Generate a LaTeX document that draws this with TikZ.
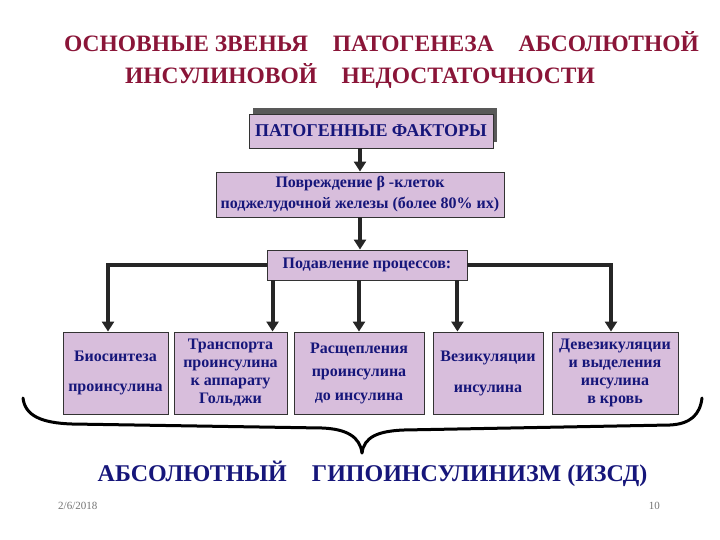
\documentclass[tikz,border=0pt]{standalone}
\usepackage{fontspec}
\setmainfont{Liberation Serif}
\usetikzlibrary{arrows.meta}
\definecolor{boxfill}{HTML}{D8BEDC}
\definecolor{navy}{HTML}{16167A}
\definecolor{titlered}{HTML}{8A1538}
\tikzset{
  box/.style={draw=black!80, line width=0.9pt, fill=boxfill, text=navy, align=center, inner sep=0pt},
  arr/.style={draw=black!85, line width=4pt, -{Triangle[width=12pt,length=10pt]}},
  brace/.style={draw=black, line width=3pt, line cap=round},
  ttl/.style={font=\fontsize{23.5}{28}\selectfont\bfseries, anchor=base, inner sep=0pt},
}
\begin{document}
\begin{tikzpicture}[x=1pt,y=-1pt]
\useasboundingbox (0,0) rectangle (720,540);
% title
\node[ttl, text=titlered] (t1) at (381.5,52) {ОСНОВНЫЕ ЗВЕНЬЯ\hspace{0.8em} ПАТОГЕНЕЗА\hspace{0.8em} АБСОЛЮТНОЙ};
\node[ttl, text=titlered] (t2) at (360,84) {ИНСУЛИНОВОЙ\hspace{0.8em} НЕДОСТАТОЧНОСТИ};
% boxes
\fill[black!65] (253,108) rectangle (497,142);
\node[box, minimum width=244, minimum height=34, font=\fontsize{18}{20}\selectfont\bfseries] (f1) at (371,131) {ПАТОГЕННЫЕ ФАКТОРЫ};
\node[box, minimum width=288, minimum height=45, font=\fontsize{16}{21}\selectfont\bfseries] (f2) at (360,194.5) {Повреждение β -клеток\\поджелудочной железы (более 80\% их)};
\node[box, minimum width=200, minimum height=30, font=\fontsize{16}{18}\selectfont\bfseries] (p) at (367,265) {Подавление процессов:};
\node[box, minimum width=105, minimum height=82, font=\fontsize{16}{30}\selectfont\bfseries] (a) at (115.5,373) {\raisebox{4pt}{Биосинтеза}\\\raisebox{4pt}{проинсулина}};
\node[box, minimum width=113, minimum height=82, font=\fontsize{16}{18}\selectfont\bfseries] (b) at (230.5,373) {Транспорта\\проинсулина\\к аппарату\\Гольджи};
\node[box, minimum width=130, minimum height=82, font=\fontsize{16}{23.5}\selectfont\bfseries] (c) at (359,373) {Расщепления\\проинсулина\\до инсулина};
\node[box, minimum width=110, minimum height=82, font=\fontsize{16}{31}\selectfont\bfseries] (d) at (488,373) {Везикуляции\\инсулина};
\node[box, minimum width=126, minimum height=82, font=\fontsize{16}{18}\selectfont\bfseries] (e) at (615,373) {Девезикуляции\\и выделения\\инсулина\\в кровь};
% connectors
\draw[arr] (f1.south -| f2.north) -- (f2.north);
\draw[arr] (f2.south) -- (f2.south |- p.north);
\draw[arr] (p.west) -| ([xshift=-7.5pt]a.north);
\draw[arr] (p.east) -| ([xshift=-4pt]e.north);
\draw[arr] ([xshift=6pt]p.south west) -- ([xshift=6pt]p.south west |- b.north);
\draw[arr] ([xshift=-8pt]p.south) -- ([xshift=-8pt]p.south |- c.north);
\draw[arr] ([xshift=-10pt]p.south east) -- ([xshift=-10pt]p.south east |- d.north);
% brace
\draw[brace] (23,398) .. controls (25,416) and (42,423) .. (72,424) -- (322,428) .. controls (347,429) and (360,437) .. (362,453);
\draw[brace] (362,453) .. controls (364,437) and (378,431) .. (404,430) -- (670,425) .. controls (690,424) and (700,415) .. (702,398);
% result
\node[ttl, font=\fontsize{24}{28}\selectfont\bfseries, text=navy] (r) at (372.5,481) {АБСОЛЮТНЫЙ\hspace{0.8em} ГИПОИНСУЛИНИЗМ (ИЗСД)};
% footer
\node[anchor=base west, inner sep=0pt, text=black!55, font=\fontsize{11}{13}\selectfont] (date) at (58,509) {2/6/2018};
\node[anchor=base east, inner sep=0pt, text=black!55, font=\fontsize{11}{13}\selectfont] (num) at (660,509) {10};
\end{tikzpicture}
\end{document}
